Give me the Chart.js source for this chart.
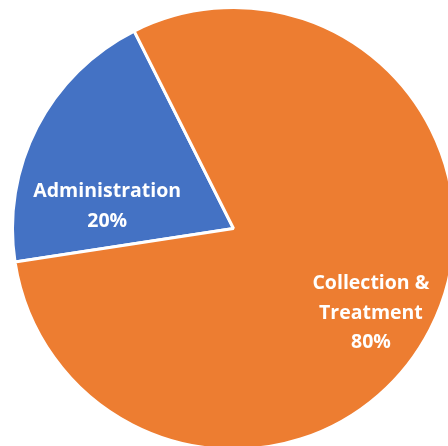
<!DOCTYPE html>
<html>
<head>
<meta charset="utf-8">
<script src="https://cdn.jsdelivr.net/npm/chart.js@4/dist/chart.umd.min.js"></script>
<style>
    html, body {
        margin: 0;
        padding: 0;
        width: 448px;
        height: 446px;
        overflow: hidden;
        background: #ffffff;
    }
    #wrap {
        position: absolute;
        left: 11px;
        top: 6px;
        width: 445px;
        height: 445px;
    }
</style>
</head>
<body>
<div id="wrap"><canvas id="cost-split"></canvas></div>
<script>
const categories = ["Administration", "Collection & Treatment"];
const shares = [20, 80];
const sliceColors = ["#4472C4", "#ED7D31"];
// label lines drawn inside each slice
const sliceLabels = [
    ["Administration", "20%"],
    ["Collection &", "Treatment", "80%"],
];

// where each label block sits: fraction of the radius and a small turn (deg) off the slice middle
const labelPlacement = [
    { frac: 0.58, turn: -17.5 },
    { frac: 0.73, turn: 4.3 },
];

const sliceLabelPlugin = {
    id: "sliceLabels",
    afterDatasetsDraw(chart) {
        const ctx = chart.ctx;
        const arcs = chart.getDatasetMeta(0).data;
        ctx.save();
        ctx.fillStyle = "#ffffff";
        ctx.font = "bold 19.5px 'Open Sans'";
        ctx.textAlign = "center";
        ctx.textBaseline = "middle";
        const lineHeight = 29.5;
        arcs.forEach((arc, i) => {
            const p = arc.getProps(["x", "y", "startAngle", "endAngle", "outerRadius"], true);
            const mid = (p.startAngle + p.endAngle) / 2 + (labelPlacement[i].turn * Math.PI) / 180;
            const r = p.outerRadius * labelPlacement[i].frac;
            const cx = p.x + Math.cos(mid) * r;
            const cy = p.y + Math.sin(mid) * r;
            const lines = sliceLabels[i];
            const top = cy - ((lines.length - 1) * lineHeight) / 2;
            lines.forEach((line, j) => {
                ctx.fillText(line, cx, top + j * lineHeight);
            });
        });
        ctx.restore();
    },
};

new Chart(document.querySelector("#cost-split"), {
    type: "pie",
    data: {
        labels: categories,
        datasets: [
            {
                data: shares,
                backgroundColor: sliceColors,
                borderColor: "#ffffff",
                borderWidth: 3,
            },
        ],
    },
    options: {
        responsive: true,
        maintainAspectRatio: false,
        animation: false,
        rotation: 261.3,
        layout: { padding: 0 },
        plugins: {
            legend: { display: false },
            tooltip: { enabled: false },
        },
    },
    plugins: [sliceLabelPlugin],
});
</script>
</body>
</html>
